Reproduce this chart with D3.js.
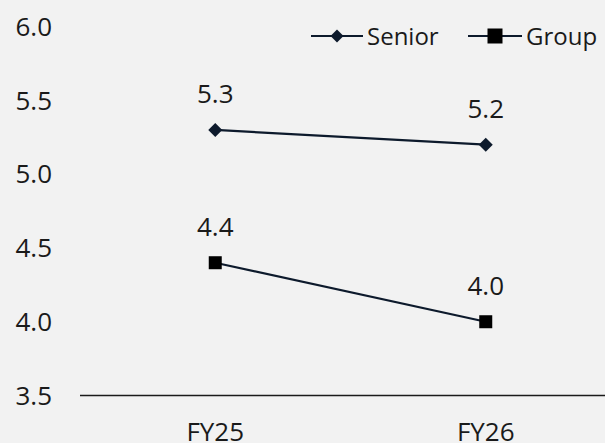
<!DOCTYPE html>
<html>
<head>
<meta charset="utf-8">
<script src="https://cdn.jsdelivr.net/npm/d3@7"></script>
<style>
  html, body { margin: 0; padding: 0; background: #f2f2f2; }
  svg { display: block; }
  text { font-family: "Open Sans", sans-serif; fill: #1a1a1a; }
</style>
</head>
<body>
<svg id="chart" width="605" height="443"></svg>
<script>
// Chart data
const categories = ["FY25", "FY26"];
const seniorValues = [5.3, 5.2];
const groupValues = [4.4, 4.0];
const yTicks = [3.5, 4.0, 4.5, 5.0, 5.5, 6.0];
const seriesNames = ["Senior", "Group"];

const W = 605, H = 443;
const lineColor = "#0d1a2c";
const fontSize = 26;
const legendFontSize = 24;

const svg = d3.select("#chart");
svg.append("rect").attr("width", W).attr("height", H).attr("fill", "#f2f2f2");

const y = d3.scaleLinear().domain([3.5, 6.0]).range([395.5, 26.7]);
// category bands; the plot area runs past the right edge of the view
const x = d3.scaleBand().domain(categories).range([80, 621]);
const cx = c => x(c) + x.bandwidth() / 2;

// Y axis labels (no axis line)
const yAxis = d3.axisLeft(y).tickValues(yTicks).tickFormat(d3.format(".1f")).tickSize(0).tickPadding(0);
const yg = svg.append("g").attr("transform", "translate(52,0)").call(yAxis);
yg.select(".domain").remove();
yg.selectAll("text")
  .attr("font-size", fontSize)
  .attr("font-family", "Open Sans, sans-serif")
  .attr("fill", "#1a1a1a")
  .attr("dy", "0.33em");

// X axis baseline and labels
const xAxis = d3.axisBottom(x).tickSize(0).tickPadding(0);
const xg = svg.append("g").attr("transform", `translate(0,${y(3.5)})`).call(xAxis);
xg.select(".domain").remove();
xg.selectAll("text")
  .attr("font-size", fontSize)
  .attr("font-family", "Open Sans, sans-serif")
  .attr("fill", "#1a1a1a")
  .attr("y", 0)
  .attr("dy", 45);
svg.append("line")
  .attr("x1", 80).attr("x2", W)
  .attr("y1", y(3.5)).attr("y2", y(3.5))
  .attr("stroke", "#1a1a1a").attr("stroke-width", 1.3);

const line = d3.line().x((d, i) => cx(categories[i])).y(d => y(d));

const series = [
  { name: seriesNames[0], values: seniorValues, marker: "diamond" },
  { name: seriesNames[1], values: groupValues, marker: "square" }
];

function drawMarker(g, type, mx, my, s) {
  if (type === "diamond") {
    g.append("path")
      .attr("d", `M${mx},${my - s / 2}L${mx + s / 2},${my}L${mx},${my + s / 2}L${mx - s / 2},${my}Z`)
      .attr("fill", lineColor);
  } else {
    g.append("rect")
      .attr("x", mx - s / 2).attr("y", my - s / 2)
      .attr("width", s).attr("height", s)
      .attr("fill", "#000");
  }
}

series.forEach(s => {
  const g = svg.append("g");
  g.append("path")
    .attr("d", line(s.values))
    .attr("fill", "none")
    .attr("stroke", lineColor)
    .attr("stroke-width", 2.2);
  s.values.forEach((v, i) => {
    const px = cx(categories[i]), py = y(v);
    drawMarker(g, s.marker, px, py, s.marker === "diamond" ? 14 : 13);
    g.append("text")
      .attr("x", px).attr("y", py - 27)
      .attr("text-anchor", "middle")
      .attr("font-size", fontSize)
      .text(d3.format(".1f")(v));
  });
});

// Legend
const legendItems = [
  { name: seriesNames[0], marker: "diamond", x1: 311, x2: 363, tx: 367 },
  { name: seriesNames[1], marker: "square", x1: 468, x2: 522, tx: 526 }
];
const ly = 36;
legendItems.forEach(it => {
  const g = svg.append("g");
  g.append("line")
    .attr("x1", it.x1).attr("x2", it.x2)
    .attr("y1", ly).attr("y2", ly)
    .attr("stroke", lineColor).attr("stroke-width", 2.2);
  drawMarker(g, it.marker, (it.x1 + it.x2) / 2, ly, it.marker === "diamond" ? 13 : 15);
  g.append("text")
    .attr("x", it.tx).attr("y", 44.5)
    .attr("font-size", legendFontSize)
    .text(it.name);
});
</script>
</body>
</html>
